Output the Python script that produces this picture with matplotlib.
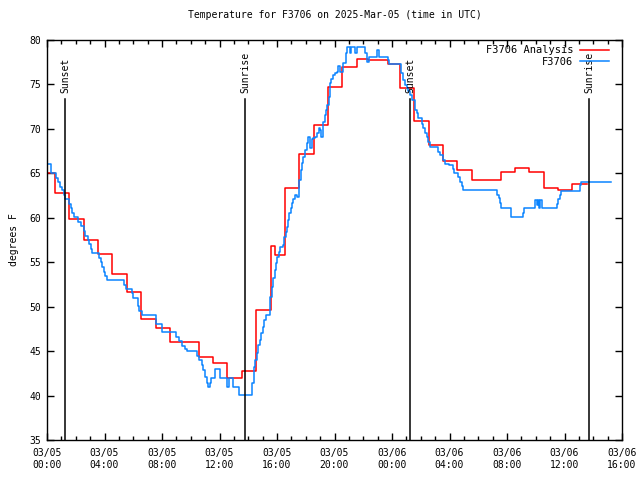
import pandas as pd
import matplotlib
matplotlib.use("Agg")
import matplotlib.pyplot as plt
import matplotlib.dates as mdates

# hours since 2025-03-05 00:00 UTC
start = pd.Timestamp("2025-03-05 00:00")

# F3706 Analysis (hourly, step)
ana_hours = [0, 0.55, 1.55, 2.55, 3.55, 4.55, 5.55, 6.55, 7.55, 8.55, 10.55, 11.55,
             12.55, 13.55, 14.55, 15.55, 15.85, 16.55, 17.55, 18.55, 19.55, 20.55,
             21.55, 22.3, 23.7, 24.55, 25.55, 26.55, 27.55, 28.55, 29.55, 31.55,
             32.55, 33.55, 34.55, 35.55, 36.55, 37.55]
ana_temp = [65.0, 62.8, 59.9, 57.5, 55.9, 53.7, 51.65, 48.6, 47.6, 46.0, 44.3, 43.7,
            42.0, 42.75, 49.6, 56.8, 55.8, 63.35, 67.2, 70.4, 74.7, 77.0,
            77.9, 77.75, 77.3, 74.6, 70.9, 68.2, 66.4, 65.4, 64.25, 65.15,
            65.6, 65.15, 63.35, 63.1, 63.8, 63.8]

# F3706 observations (step)
obs_hours = [0.0, 0.28, 0.63, 0.77, 0.90, 1.04, 1.18, 1.25, 1.53, 1.67, 1.74, 1.88,
             2.16, 2.37, 2.57, 2.64, 2.85, 2.92, 3.06, 3.13, 3.62, 3.76, 3.83, 3.97,
             4.03, 4.17, 5.36, 5.50, 5.91, 5.98, 6.33, 6.40, 6.61, 7.58, 8.0, 8.97,
             9.18, 9.39, 9.6, 9.74, 10.43, 10.57, 10.78, 10.85, 10.99, 11.13, 11.2,
             11.34, 11.41, 11.69, 12.03, 12.52, 12.66, 12.94, 13.36, 14.26, 14.4,
             14.47, 14.61, 14.68, 14.82, 14.89, 15.03, 15.1, 15.23, 15.5, 15.65,
             15.72, 15.86, 15.93, 16.0, 16.14, 16.21, 16.42, 16.49, 16.63, 16.7,
             16.77, 16.83, 16.97, 17.04, 17.11, 17.25, 17.39, 17.53, 17.67, 17.74,
             17.81, 17.95, 18.09, 18.16, 18.3, 18.43, 18.5, 18.64, 18.78, 18.92,
             18.99, 19.06, 19.2, 19.34, 19.41, 19.48, 19.62, 19.69, 19.76, 19.9,
             20.03, 20.17, 20.24, 20.38, 20.59, 20.8, 20.87, 21.08, 21.15, 21.43,
             21.57, 22.12, 22.26, 22.4, 22.96, 23.1, 23.72, 23.79, 24.63, 24.77,
             24.9, 25.04, 25.11, 25.25, 25.39, 25.6, 25.74, 25.81, 26.09, 26.16,
             26.3, 26.43, 26.5, 26.64, 27.2, 27.34, 27.55, 27.69, 27.97, 28.24,
             28.31, 28.59, 28.73, 28.87, 28.94, 31.30, 31.44, 31.51, 31.58, 32.28,
             33.11, 33.18, 33.95, 34.09, 34.16, 34.23, 34.30, 34.43, 35.48, 35.55,
             35.69, 35.76, 37.08, 37.15, 39.23]
obs_temp = [66.0, 65.0, 64.5, 64.0, 63.5, 63.1, 62.6, 62.1, 61.5, 61.1, 60.5, 60.1,
            59.5, 59.1, 58.5, 58.0, 57.5, 57.1, 56.5, 56.0, 55.5, 55.0, 54.5, 53.9,
            53.45, 53.0, 52.45, 52.0, 51.5, 51.0, 50.1, 49.5, 49.1, 48.1, 47.1, 46.6,
            46.1, 45.6, 45.2, 45.0, 44.45, 44.0, 43.4, 42.9, 42.1, 41.4, 41.0,
            41.4, 42.0, 43.0, 42.0, 41.0, 42.0, 41.0, 40.05, 41.4, 43.2,
            44.0, 44.8, 45.7, 46.25, 47.0, 47.7, 48.5, 49.1, 51.1, 52.2,
            53.2, 54.1, 54.9, 55.6, 56.15, 56.7, 56.9, 57.85, 58.4, 59.0,
            59.75, 60.5, 61.1, 61.65, 62.1, 62.55, 62.3, 64.25, 65.4, 66.15,
            66.85, 67.6, 68.4, 69.1, 67.9, 68.85, 69.0, 69.1, 69.5, 70.1,
            69.9, 69.1, 70.8, 71.6, 72.1, 72.7, 73.6, 75.2, 75.6, 76.1,
            76.3, 76.4, 77.1, 76.4, 77.4, 78.5, 79.2, 78.5, 79.2, 78.5,
            79.2, 78.5, 77.5, 78.1, 78.9, 78.1, 77.75, 77.3, 76.3, 75.5,
            74.9, 74.6, 74.3, 73.8, 73.25, 72.1, 71.8, 71.2, 70.6, 70.1,
            69.5, 69.1, 68.5, 68.0, 67.4, 67.05, 66.5, 66.05, 65.9, 65.5,
            65.0, 64.6, 64.0, 63.55, 63.1, 62.55, 62.2, 61.65, 61.1, 60.1,
            60.55, 61.1, 62.0, 61.45, 62.0, 61.1, 62.0, 61.1, 61.6, 62.1,
            62.55, 63.0, 63.7, 64.0, 64.0]

sun_hours = [1.25, 13.77, 25.25, 37.7]
sun_labels = ["Sunset", "Sunrise", "Sunset", "Sunrise"]

ana_t = start + pd.to_timedelta(ana_hours, unit="h")
obs_t = start + pd.to_timedelta(obs_hours, unit="h")
sun_t = start + pd.to_timedelta(sun_hours, unit="h")

plt.rcParams['font.family'] = ['DejaVu Sans Mono']
plt.rcParams['font.size'] = 7

fig = plt.figure(figsize=(6.4, 4.8), dpi=100)
ax = fig.add_axes([47/640, 40/480, 575/640, 400/480])

ax.plot(ana_t, ana_temp, drawstyle="steps-post", color="#ff0000", lw=1.1,
        label="F3706 Analysis")
ax.plot(obs_t, obs_temp, drawstyle="steps-post", color="#0a84ff", lw=1.1,
        label="F3706")

for t, lab in zip(sun_t, sun_labels):
    ax.plot([t, t], [35, 73.4], color="black", lw=1.1)
    ax.text(t, 74.0, lab, rotation=90, ha="center", va="bottom", fontsize=7)

ax.set_xlim(start, start + pd.Timedelta(hours=40))
ax.set_ylim(35, 80)
ax.set_yticks(range(35, 81, 5))
ax.xaxis.set_major_locator(mdates.HourLocator(byhour=range(0, 24, 4)))
ax.xaxis.set_minor_locator(mdates.HourLocator())
ax.xaxis.set_major_formatter(mdates.DateFormatter("%m/%d\n%H:%M"))
ax.tick_params(direction="in", which="both", top=True, right=True, width=1)
ax.tick_params(which="major", length=5, pad=6)
ax.tick_params(which="minor", length=3)
ax.tick_params(axis="y", pad=4)
for s in ax.spines.values():
    s.set_linewidth(1)

ax.set_ylabel("degrees F", labelpad=8)
ax.set_title("Temperature for F3706 on 2025-Mar-05 (time in UTC)", fontsize=7, pad=16)

ax.legend(loc="upper right", bbox_to_anchor=(0.99, 1.005), frameon=False,
          markerfirst=False, handlelength=2.8, handletextpad=0.6,
          borderaxespad=0.3, labelspacing=0.15, fontsize=7.5)

fig.savefig("out.png", dpi=100)
